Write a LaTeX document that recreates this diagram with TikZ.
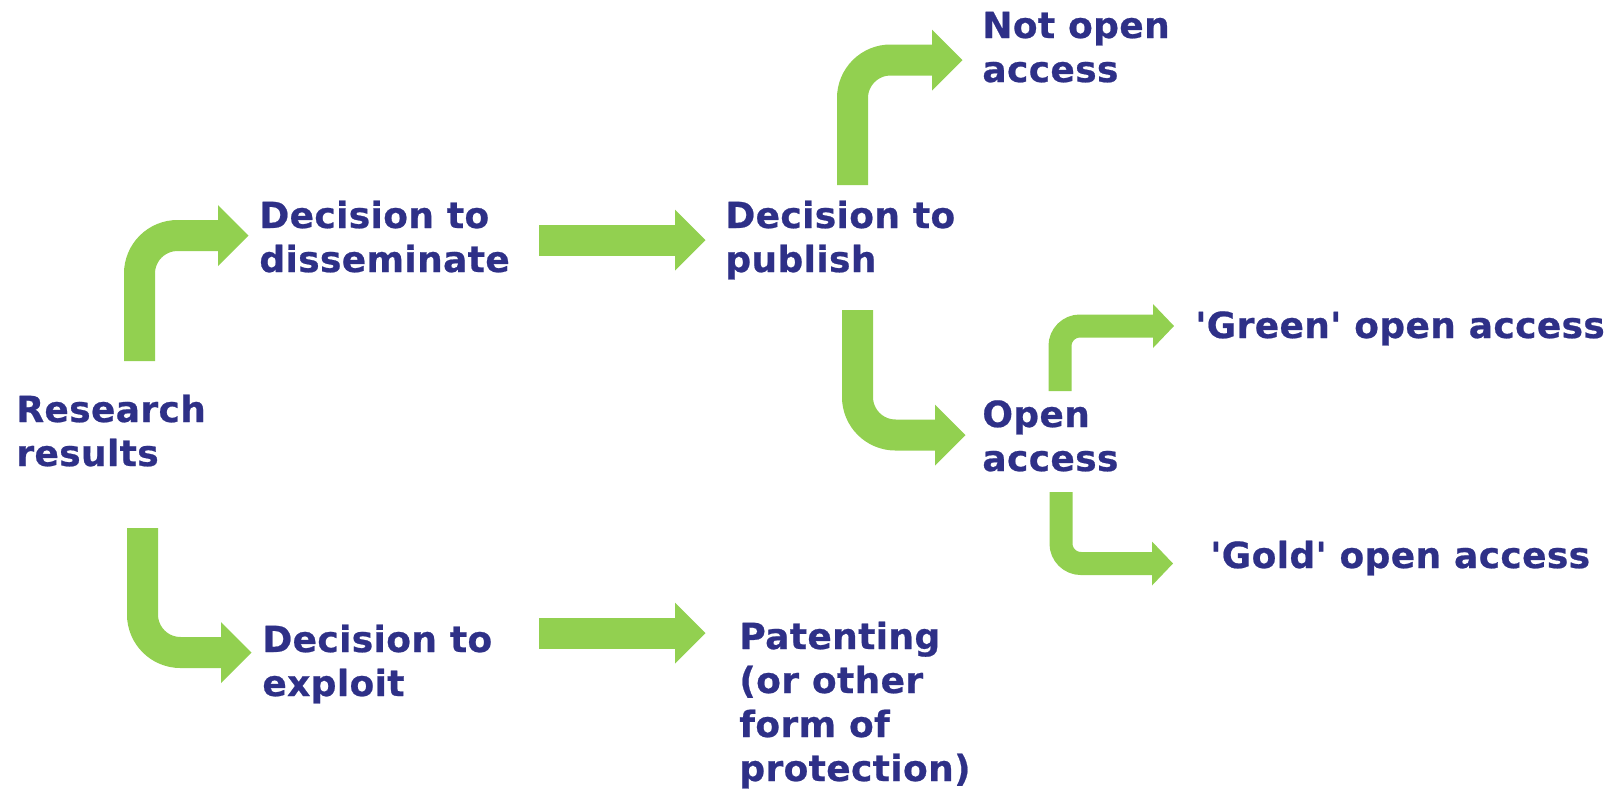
\documentclass[tikz,border=0pt]{standalone}
\usepackage{fontspec}
\setmainfont{DejaVu Sans}[LetterSpace=1,Ligatures=TeXOff,BoldFeatures={FakeBold=0.6}]
\definecolor{arrowgreen}{RGB}{146,208,80}
\definecolor{textblue}{RGB}{46,48,135}
\begin{document}
\begin{tikzpicture}[x=0.5pt,y=-0.5pt,
  txt/.style={font=\fontsize{18pt}{22pt}\selectfont\bfseries,text=textblue,align=left,inner sep=0pt,anchor=base west},
  bigshaft/.style={draw=arrowgreen,line width=15.5pt,line cap=butt,rounded corners=19pt},
  smallshaft/.style={draw=arrowgreen,line width=11.5pt,line cap=butt,rounded corners=10pt},
  bighead/.pic={\fill[arrowgreen] (0,-30.5) -- (30.5,0) -- (0,30.5) -- cycle;},
  smallhead/.pic={\fill[arrowgreen] (0,-22) -- (21,0) -- (0,22) -- cycle;}]
\useasboundingbox (0,0) rectangle (1624,789);
% texts (anchored at the baseline of their last line)
\node[txt] (res) at (16,466) {Research\\results};
\node[txt] (dis) at (259,272) {Decision to\\disseminate};
\node[txt] (pub) at (725,272) {Decision to\\publish};
\node[txt] (exp) at (262,696) {Decision to\\exploit};
\node[txt] (pat) at (739,781) {Patenting\\(or other\\form of\\protection)};
\node[txt] (noa) at (982,82) {Not open\\access};
\node[txt] (oa) at (982,471) {Open\\access};
\node[txt] (grn) at (1195,338) {'Green' open access};
\node[txt] (gld) at (1210,568) {'Gold' open access};
% connector ends
\coordinate (a1s) at (139.5,361); \coordinate (a1h) at (218,235.5);
\coordinate (a2s) at (142.5,528); \coordinate (a2h) at (221,652.5);
\coordinate (a3s) at (539,240);   \coordinate (a3h) at (675,240);
\coordinate (a4s) at (539,633);   \coordinate (a4h) at (675,633);
\coordinate (a5s) at (852.5,185); \coordinate (a5h) at (932,60);
\coordinate (a6s) at (857.5,310); \coordinate (a6h) at (935,435);
\coordinate (a7s) at (1060,391);  \coordinate (a7h) at (1153,326);
\coordinate (a8s) at (1061,492);  \coordinate (a8h) at (1152,563.5);
% arrows
\draw[bigshaft] (a1s) |- (a1h); \pic at (a1h) {bighead};
\draw[bigshaft] (a2s) |- (a2h); \pic at (a2h) {bighead};
\draw[bigshaft] (a3s) -- (a3h); \pic at (a3h) {bighead};
\draw[bigshaft] (a4s) -- (a4h); \pic at (a4h) {bighead};
\draw[bigshaft] (a5s) |- (a5h); \pic at (a5h) {bighead};
\draw[bigshaft] (a6s) |- (a6h); \pic at (a6h) {bighead};
\draw[smallshaft] (a7s) |- (a7h); \pic at (a7h) {smallhead};
\draw[smallshaft] (a8s) |- (a8h); \pic at (a8h) {smallhead};
\end{tikzpicture}
\end{document}
